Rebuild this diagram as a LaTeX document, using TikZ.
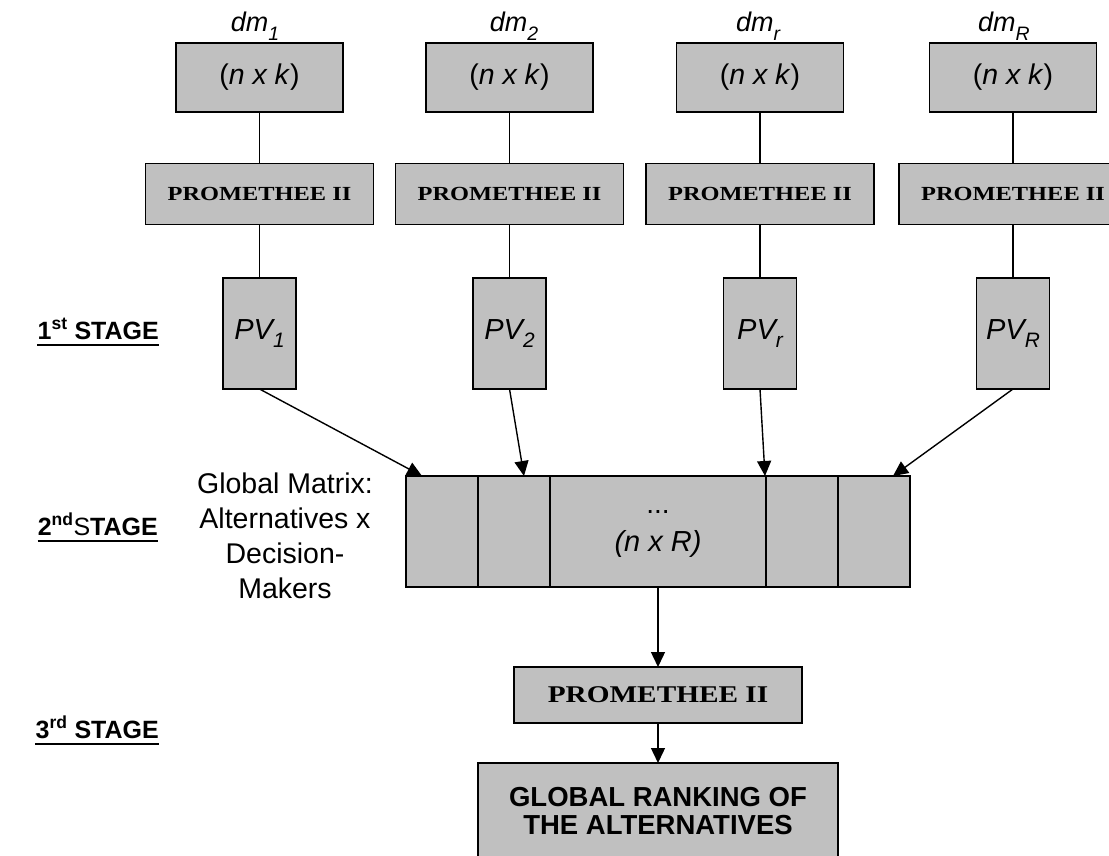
\documentclass[tikz,border=0pt]{standalone}
\usepackage{fontspec}
\usepackage{graphicx}
\setmainfont{Liberation Sans}
\newfontfamily\promfont[FakeStretch=1.22]{Liberation Serif}
\usetikzlibrary{arrows.meta}
\definecolor{boxgray}{HTML}{C0C0C0}
% lowered, reduced index used in dm and PV labels
\newcommand\lsub[1]{\raisebox{-0.3em}{\scalebox{0.72}{#1}}}

\begin{document}
\begin{tikzpicture}[x=1pt,y=-1pt,
  box/.style={draw=black, fill=boxgray, line width=1.8pt, inner sep=0pt, outer sep=0pt},
  dmbox/.style={box, minimum width=167pt, minimum height=69pt, font=\fontsize{28.5}{32}\selectfont},
  prombox/.style={box, minimum width=228pt, minimum height=61pt, font=\promfont\bfseries\fontsize{20}{24}\selectfont},
  pvbox/.style={box, minimum width=73pt, minimum height=111pt, font=\fontsize{29}{32}\selectfont\itshape},
  link/.style={line width=1.4pt},
  flow/.style={link, -{Triangle[length=15pt,width=14pt]}},
  dmlabel/.style={anchor=base, inner sep=0pt, font=\fontsize{27}{30}\selectfont\itshape},
  stagelabel/.style={anchor=base east, inner sep=0pt, font=\fontsize{25}{28}\selectfont\bfseries},
  underbar/.style={line width=2pt},
]
\useasboundingbox (0,0) rectangle (1109,856);
\clip (0,0) rectangle (1109,856);

% decision-maker matrices
\node[dmbox] (d1) at (259.5,77.5) {(\textit{n x k})};
\node[dmbox] (d2) at (509.5,77.5) {(\textit{n x k})};
\node[dmbox] (d3) at (760,77.5) {(\textit{n x k})};
\node[dmbox] (d4) at (1013,77.5) {(\textit{n x k})};

\node[dmlabel] (l1) at (255,32) {dm\lsub{1}};
\node[dmlabel] (l2) at (514,32) {dm\lsub{2}};
\node[dmlabel] (l3) at (758,32) {dm\lsub{r}};
\node[dmlabel] (l4) at (1004,32) {dm\lsub{R}};

% individual PROMETHEE II runs
\node[prombox] (q1) at (259.5,194) {PROMETHEE II};
\node[prombox] (q2) at (509.5,194) {PROMETHEE II};
\node[prombox] (q3) at (760,194) {PROMETHEE II};
\node[prombox] (q4) at (1013,194) {PROMETHEE II};

% preference vectors
\node[pvbox] (v1) at (259.5,333.5) {PV\lsub{1}};
\node[pvbox] (v2) at (509.5,333.5) {PV\lsub{2}};
\node[pvbox] (v3) at (760,333.5) {PV\lsub{r}};
\node[pvbox] (v4) at (1013,333.5) {PV\lsub{R}};

\foreach \i in {1,...,4}{
  \draw[link] (d\i.south) -- (q\i.north);
  \draw[link] (q\i.south) -- (v\i.north);
}

% global matrix with its columns
\node[box, minimum width=504pt, minimum height=111pt] (gm) at (658,531.5) {};
\foreach \dx in {72,144,360,432}{
  \draw[line width=1.6pt] ([xshift=\dx pt]gm.north west) -- ([xshift=\dx pt]gm.south west);
}
\node[anchor=base, inner sep=0pt, font=\fontsize{28}{30}\selectfont] (gmdots) at (658,513) {...};
\node[anchor=base, inner sep=0pt, font=\fontsize{29}{30}\selectfont\itshape] (gmdim) at (658,551) {(n x R)};

\node[anchor=north, align=center, inner sep=0pt, font=\fontsize{28.5}{35}\selectfont] (gmlabel) at (285,473)
  {Global Matrix:\\Alternatives x\\Decision-\\Makers};

\draw[flow] (v1.south) -- ([xshift=16pt]gm.north west);
\draw[flow] (v2.south) -- ([xshift=118pt]gm.north west);
\draw[flow] (v3.south) -- ([xshift=359pt]gm.north west);
\draw[flow] (v4.south) -- ([xshift=487pt]gm.north west);

% final aggregation
\node[prombox, minimum width=288pt, minimum height=56pt, font=\promfont\bfseries\fontsize{24}{28}\selectfont] (q0) at (658,695) {PROMETHEE II};
\node[box, minimum width=360pt, minimum height=96pt, anchor=north, align=center,
      font=\fontsize{27.5}{28}\selectfont\bfseries] (gr) at (658,763) {GLOBAL RANKING OF\\THE ALTERNATIVES};

\draw[flow] (gm.south) -- (q0.north);
\draw[flow] (q0.south) -- (gr.north);

% stage captions
\node[stagelabel] (s1) at (159,339) {1\textsuperscript{st} STAGE};
\node[stagelabel] (s2) at (158,535) {2\textsuperscript{nd}{\mdseries S}TAGE};
\node[stagelabel] (s3) at (159,738) {3\textsuperscript{rd} STAGE};
\foreach \s in {s1,s2,s3}{
  \draw[underbar] ([yshift=-6pt]\s.base west) -- ([yshift=-6pt]\s.base east);
}
\end{tikzpicture}
\end{document}
